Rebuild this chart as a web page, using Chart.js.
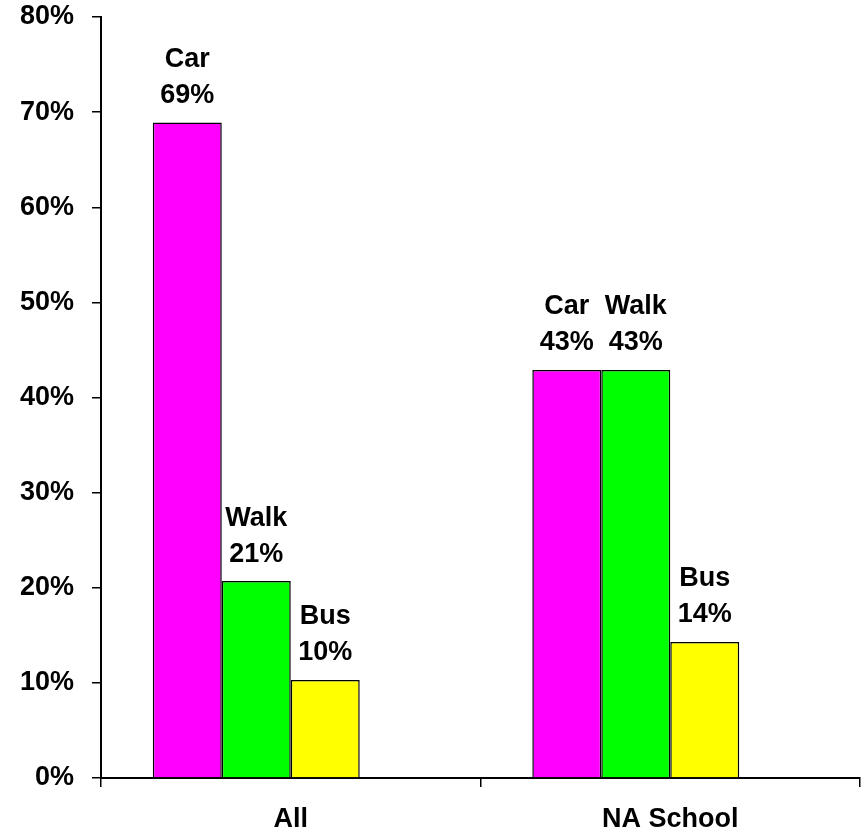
<!DOCTYPE html>
<html>
<head>
<meta charset="utf-8">
<script src="https://cdn.jsdelivr.net/npm/chart.js@4"></script>
<style>
  html, body { margin: 0; padding: 0; background: #fff; }
  #wrap { width: 865px; height: 833px; }
</style>
</head>
<body>
<div id="wrap"><canvas id="travelChart"></canvas></div>
<script>
const categories = ["All", "NA School"];
const modes = ["Car", "Walk", "Bus"];
const carValues = [68.9, 42.9];
const walkValues = [20.7, 42.9];
const busValues = [10.3, 14.3];
const emptyValues = [null, null]; // blank 4th series, keeps the slot like the original
const yTicks = [0, 10, 20, 30, 40, 50, 60, 70, 80];

const FONT = "'Liberation Sans', Arial, sans-serif";

// draws "Car / 69%" above each bar
const barLabels = {
    id: 'barLabels',
    afterDatasetsDraw(chart) {
        const ctx = chart.ctx;
        ctx.save();
        ctx.font = "bold 27px " + FONT;
        ctx.fillStyle = "#000";
        ctx.textAlign = "center";
        ctx.textBaseline = "middle";
        chart.data.datasets.forEach((ds, i) => {
            if (!ds.label) return;
            const meta = chart.getDatasetMeta(i);
            meta.data.forEach((bar, j) => {
                if (ds.data[j] == null) return;
                const v = Math.round(ds.data[j]);
                ctx.fillText(v + "%", bar.x, bar.y - 27);
                ctx.fillText(ds.label, bar.x, bar.y - 63);
            });
        });
        ctx.restore();
    }
};

const CHART = document.getElementById("travelChart");
let barChart = new Chart(CHART, {
    type: 'bar',
    data: {
        labels: categories,
        datasets: [
            {label: modes[0], data: carValues, backgroundColor: "#FF00FF", borderColor: "#000", borderWidth: 1.5},
            {label: modes[1], data: walkValues, backgroundColor: "#00FF00", borderColor: "#000", borderWidth: 1.5},
            {label: modes[2], data: busValues, backgroundColor: "#FFFF00", borderColor: "#000", borderWidth: 1.5},
            {label: "", data: emptyValues, backgroundColor: "#fff", borderWidth: 0}
        ]
    },
    options: {
        responsive: true,
        maintainAspectRatio: false,
        animation: false,
        barPercentage: 1.0,
        categoryPercentage: 0.727,
        layout: { autoPadding: false, padding: { top: 17, right: 5, bottom: 0, left: 0 } },
        plugins: {
            legend: { display: false },
            tooltip: { enabled: false }
        },
        scales: {
            x: {
                offset: true,
                grid: { offset: true, drawOnChartArea: false, drawTicks: true, tickLength: 9, color: "#000", lineWidth: 1.5 },
                border: { display: true, color: "#000", width: 2 },
                ticks: { color: "#000", font: { family: FONT, size: 27, weight: 'bold' }, padding: 16 },
                afterFit(s) { s.height = 55; s.paddingLeft = 0; s.paddingRight = 0; }
            },
            y: {
                min: 0,
                max: 80,
                afterBuildTicks(s) { s.ticks = yTicks.map(v => ({value: v})); },
                grid: { drawOnChartArea: false, drawTicks: true, tickLength: 9, color: "#000", lineWidth: 1.5 },
                border: { display: true, color: "#000", width: 2 },
                ticks: {
                    color: "#000",
                    padding: 18,
                    font: { family: FONT, size: 27, weight: 'bold' },
                    callback: v => v + "%"
                },
                afterFit(s) { s.width = 101; s.paddingTop = 0; s.paddingBottom = 0; }
            }
        }
    },
    plugins: [barLabels]
});
</script>
</body>
</html>
